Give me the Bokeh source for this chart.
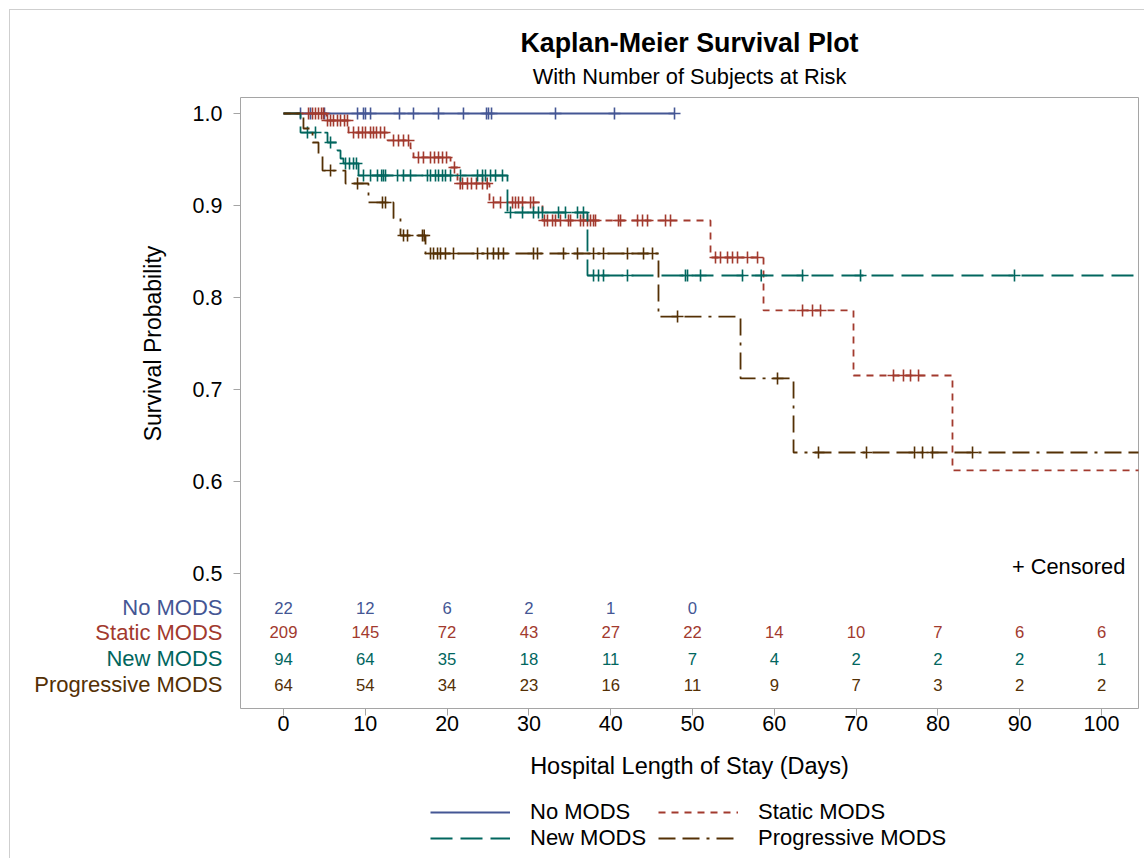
import numpy as np
from bokeh.plotting import figure
from bokeh.layouts import column, row
from bokeh.models import (Range1d, FixedTicker, Label, Legend, LegendItem, Title)
from bokeh.core.properties import value
from bokeh.embed import file_html
from bokeh.resources import INLINE

FONT = "Liberation Sans"

groups = ["No MODS", "Static MODS", "New MODS", "Progressive MODS"]
colors = ["#445694", "#A23A2E", "#01665E", "#543005"]
dashes = ["solid", "7 6", "22 8", "17 7 17 7 3 7"]

# ---- Kaplan-Meier step data (time in days, survival probability) ----
no_t = [0.0]
no_s = [1.0]
no_end = 47.8
no_cens = [2.08, 3.3, 5.01, 9.05, 9.78, 10.02, 10.64, 14.18, 15.89, 18.95,
           22.0, 24.82, 25.06, 25.43, 33.25, 40.46, 47.8]

static_t = [0.0, 5.26, 7.95, 12.71, 15.53, 15.89, 20.42, 21.27, 25.18, 31.66,
            52.20, 58.68, 69.68, 81.78]
static_s = [1.0, 0.9924, 0.9793, 0.9707, 0.962, 0.9522, 0.9413, 0.9239, 0.9033,
            0.8837, 0.8435, 0.7859, 0.7152, 0.612]
static_end = 106.0
static_cens = [3.06, 3.55, 3.91, 4.28, 4.65, 4.89,
               5.38, 5.75, 6.11, 6.60, 6.97, 7.46, 7.82,
               8.56, 9.17, 9.66, 10.02, 10.64, 11.0, 11.37, 11.86, 12.35,
               13.45, 14.06, 14.67, 15.28,
               16.5, 17.11, 17.97, 18.46, 18.95, 19.44, 19.93,
               20.9,
               21.6, 21.88, 22.49, 22.98, 23.59, 24.33, 24.9,
               25.67, 26.53, 28.0, 28.36, 28.73, 29.22, 30.2, 30.56,
               31.9, 32.27, 32.89, 33.25, 33.86, 34.84, 35.09, 36.31, 36.67, 37.16,
               37.53, 37.9, 38.14, 40.95, 41.2, 43.28, 43.89, 44.5, 46.7, 47.31,
               52.81, 53.42, 54.28, 54.89, 55.5, 56.72, 57.95,
               63.45, 64.67, 65.65,
               74.57, 75.79, 76.65, 77.63]

new_t = [0.0, 2.08, 5.38, 6.6, 6.97, 7.33, 9.17, 27.38, 37.16]
new_s = [1.0, 0.9793, 0.9685, 0.9598, 0.9511, 0.9457, 0.9326, 0.8924, 0.8239]
new_end = 106.0
new_cens = [2.93, 3.91, 5.75, 7.58, 8.07, 8.56, 8.92,
            9.78, 10.64, 11.49, 12.0, 12.22, 12.47, 13.94, 14.67, 15.53, 17.6,
            17.97, 18.58, 18.95, 19.44, 19.8, 20.42, 21.64, 23.72, 24.33, 24.69,
            25.31, 25.92, 26.77,
            27.75, 29.22, 30.56, 31.17, 31.66, 33.62, 34.47, 35.94, 36.67,
            37.9, 38.51, 39.12, 42.05, 49.14, 49.39, 50.98, 56.11, 58.4, 63.45,
            70.54, 89.36]

prog_t = [0.0, 2.44, 3.55, 4.28, 4.77, 7.58, 10.39, 13.45, 14.3, 17.36, 45.84,
          55.87, 62.35]
prog_s = [1.0, 0.9837, 0.9685, 0.9533, 0.938, 0.9239, 0.9033, 0.8859, 0.8674,
          0.8478, 0.7793, 0.712, 0.6315]
prog_end = 106.0
prog_cens = [5.75, 9.05, 12.1, 12.47, 14.67, 15.16, 16.99, 17.2,
             17.97, 18.34, 18.83, 19.19, 19.8, 20.78, 23.72, 24.94, 25.67, 26.28,
             26.89, 30.56, 31.05, 34.23, 35.94, 37.9, 39.12, 42.05, 44.01, 45.11,
             48.17, 60.39, 65.4, 71.27, 77.14, 78.12, 79.34, 84.23]

# ---- number at risk ----
risk_times = [0, 10, 20, 30, 40, 50, 60, 70, 80, 90, 100]
risk_no = [22, 12, 6, 2, 1, 0]
risk_static = [209, 145, 72, 43, 27, 22, 14, 10, 7, 6, 6]
risk_new = [94, 64, 35, 18, 11, 7, 4, 2, 2, 2, 1]
risk_prog = [64, 54, 34, 23, 16, 11, 9, 7, 3, 2, 2]

x_ticks = [0, 10, 20, 30, 40, 50, 60, 70, 80, 90, 100]
y_ticks = [0.5, 0.6, 0.7, 0.8, 0.9, 1.0]
y_tick_labels = ["0.5", "0.6", "0.7", "0.8", "0.9", "1.0"]

series = [
    (no_t, no_s, no_end, no_cens, risk_no),
    (static_t, static_s, static_end, static_cens, risk_static),
    (new_t, new_s, new_end, new_cens, risk_new),
    (prog_t, prog_s, prog_end, prog_cens, risk_prog),
]

FRAME = "#A5A5A5"
X0, X1 = -5.257, 104.52
YR = Range1d(0.35326, 1.01739)
TOP, BOTTOM = 87, 90
H = 788
LEFT_W = 220          # width of the left strip (tick labels, row labels, y title)

# ---------------- main plot ----------------
p = figure(width=1134 - LEFT_W, height=H,
           x_range=Range1d(X0, X1), y_range=YR,
           output_backend="svg", toolbar_location=None,
           min_border_left=10, min_border_right=6,
           min_border_top=TOP, min_border_bottom=BOTTOM)
p.xgrid.visible = False
p.ygrid.visible = False
p.outline_line_color = FRAME
p.outline_line_width = 1
p.background_fill_color = "white"
p.border_fill_color = "white"

for ax in (p.xaxis[0], p.yaxis[0]):
    ax.axis_line_color = None
    ax.major_tick_line_color = FRAME
    ax.major_tick_in = 0
    ax.major_tick_out = 7
    ax.minor_tick_line_color = None
    ax.major_label_text_font = FONT
    ax.major_label_text_font_size = "21.5px"
    ax.major_label_text_color = "black"
    ax.axis_label_text_font = FONT
    ax.axis_label_text_font_size = "23.5px"
    ax.axis_label_text_font_style = "normal"
    ax.axis_label_text_color = "black"

p.xaxis.ticker = FixedTicker(ticks=x_ticks)
p.xaxis.major_label_standoff = 0
p.xaxis.axis_label = "Hospital Length of Stay (Days)"
p.xaxis.axis_label_standoff = 19

p.yaxis.ticker = FixedTicker(ticks=y_ticks)
p.yaxis.major_label_overrides = {t: "" for t in y_ticks}
p.yaxis.major_label_standoff = 0

# titles
p.add_layout(Title(text="With Number of Subjects at Risk", align="center",
                   text_font=FONT, text_font_size="21.8px", text_font_style="normal",
                   text_color="black", standoff=17), "above")
p.add_layout(Title(text="Kaplan-Meier Survival Plot", align="center",
                   text_font=FONT, text_font_size="26.8px", text_font_style="bold",
                   text_color="black", standoff=-8), "above")

# ---------------- left strip: y tick labels, at-risk row labels, y title ----------------
LAB_R = 222   # right edge of tick / row labels (page px)
YT_X = 152    # centre of rotated y title (page px)
left = figure(width=LEFT_W, height=H, x_range=Range1d(10, 10 + LEFT_W), y_range=YR,
              output_backend="svg", toolbar_location=None,
              min_border_left=0, min_border_right=0,
              min_border_top=TOP, min_border_bottom=BOTTOM)
left.axis.visible = False
left.grid.visible = False
left.outline_line_color = None
left.text(x=[LAB_R] * len(y_ticks), y=y_ticks, text=y_tick_labels,
          text_font=value(FONT), text_font_size="21.5px", text_color="black",
          text_align="right", text_baseline="middle")
left.text(x=[YT_X], y=[(y_ticks[0] + y_ticks[-1]) / 2], text=["Survival Probability"],
          angle=np.pi / 2, text_font=value(FONT), text_font_size="23px",
          text_color="black", text_align="center", text_baseline="middle")

# ---------------- legend strip ----------------
leg = figure(width=1134, height=60, output_backend="svg", toolbar_location=None,
             x_range=Range1d(0, 1), y_range=Range1d(0, 1),
             min_border_left=230, min_border_right=6, min_border_top=0,
             min_border_bottom=0)
leg.axis.visible = False
leg.grid.visible = False
leg.outline_line_color = None

items = []
row_y = [0.463, 0.4359, 0.4076, 0.3793]
for (t, s, end, cens, risk), name, col, dash, ry in zip(series, groups, colors, dashes, row_y):
    xs = list(t) + [end]
    ys = list(s) + [s[-1]]
    p.step(x=xs, y=ys, mode="after", line_color=col, line_width=1.8, line_dash=dash)
    r = leg.line(x=[np.nan, np.nan], y=[np.nan, np.nan], line_color=col,
                 line_width=1.8, line_dash=dash)
    items.append(LegendItem(label=name, renderers=[r]))
    ta = np.array(t)
    sa = np.array(s)
    idx = np.searchsorted(ta, np.array(cens), side="right") - 1
    p.scatter(x=cens, y=sa[idx].tolist(), marker="cross", size=12,
              line_color=col, line_width=1.6)
    p.text(x=risk_times[:len(risk)], y=[ry] * len(risk), text=[str(v) for v in risk],
           text_font=value(FONT), text_font_size="16.7px", text_color=col,
           text_align="center", text_baseline="middle")
    left.text(x=[LAB_R], y=[ry], text=[name], text_font=value(FONT),
              text_font_size="22px", text_color=col,
              text_align="right", text_baseline="middle")

p.add_layout(Label(x=102.9, y=0.5076, text="+ Censored", text_align="right",
                   text_baseline="middle", text_color="black",
                   text_font=FONT, text_font_size="21.8px"))

legend = Legend(items=items, orientation="horizontal", ncols=2,
                location=(190, 7), glyph_width=80, glyph_height=20,
                label_standoff=20, spacing=0, padding=0, margin=0,
                label_width=128,
                label_text_font=FONT, label_text_font_size="22px",
                label_text_color="black", label_height=20,
                border_line_color=None, background_fill_alpha=0)
leg.add_layout(legend, "center")

layout = column(row(left, p, spacing=0), leg, spacing=0,
                styles={"margin-left": "9px", "margin-top": "9px",
                        "border-top": "1px solid #cfcfcf",
                        "border-left": "1px solid #cfcfcf"})

open("out.html", "w").write(file_html(layout, INLINE))
